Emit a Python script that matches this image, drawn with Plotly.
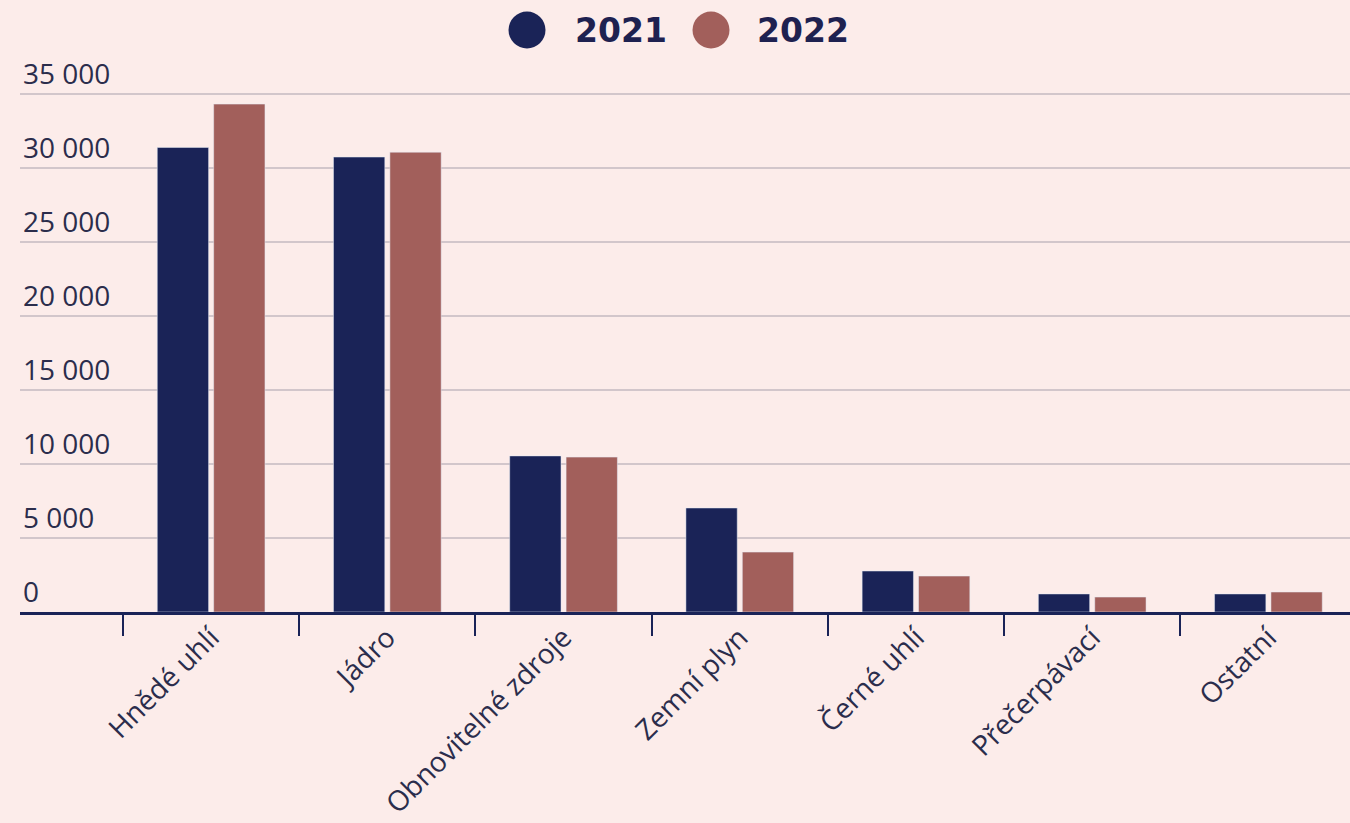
import plotly.graph_objects as go

categories = ["Hnědé uhlí", "Jádro", "Obnovitelné zdroje", "Zemní plyn", "Černé uhlí", "Přečerpávací", "Ostatní"]
series_names = ["2021", "2022"]
values_2021 = [31400, 30750, 10550, 7030, 2770, 1220, 1220]
values_2022 = [34330, 31080, 10470, 4050, 2430, 1010, 1350]
y_tickvals = [0, 5000, 10000, 15000, 20000, 25000, 30000, 35000]
y_ticktext = ["0", "5 000", "10 000", "15 000", "20 000", "25 000", "30 000", "35 000"]

NAVY = "#1a2357"
ROSE = "#a25f5b"
BG = "#fcecea"
TEXT = "#2b2d4c"

W, H = 1350, 823
L, R, T, B = 20, 0, 35, 211
pw, ph = W - L - R, H - T - B

def px_x(px):
    return (px - L) / pw

def px_y(py):
    return (H - B - py) / ph

fig = go.Figure()
fig.add_trace(go.Bar(x=categories, y=values_2021, name=series_names[0], marker_color=NAVY, showlegend=False))
fig.add_trace(go.Bar(x=categories, y=values_2022, name=series_names[1], marker_color=ROSE, showlegend=False))

# custom legend with large circles
legend_items = [(527, 573, NAVY, series_names[0]), (711, 755, ROSE, series_names[1])]
shapes = []
annotations = []
for cx, tx, col, name in legend_items:
    shapes.append(dict(type="circle", xref="paper", yref="paper",
                       x0=px_x(cx - 18.5), x1=px_x(cx + 18.5),
                       y0=px_y(30 + 18.5), y1=px_y(30 - 18.5),
                       fillcolor=col, line=dict(width=0)))
    annotations.append(dict(x=px_x(tx), y=px_y(30), xref="paper", yref="paper",
                            text="<b>%s</b>" % name, showarrow=False,
                            xanchor="left", yanchor="middle",
                            font=dict(family="DejaVu Sans", size=33, color="#1e2150")))

fig.update_layout(
    width=W, height=H,
    margin=dict(l=L, r=R, t=T, b=B, autoexpand=False),
    paper_bgcolor=BG, plot_bgcolor=BG,
    barmode="group", bargap=0.36, bargroupgap=0.09,
    shapes=shapes, annotations=annotations,
    showlegend=False,
    font=dict(family="Open Sans", color=TEXT),
)
fig.update_xaxes(
    type="category",
    range=[-1.0846, 6.463],
    automargin=False,
    showline=True, linecolor=NAVY, linewidth=3,
    ticks="outside", tickson="boundaries", ticklen=21, tickwidth=2, tickcolor=NAVY,
    tickangle=-45, tickfont=dict(family="Open Sans", size=28, color=TEXT),
    ticklabelstandoff=-5,
    showgrid=False,
)
fig.update_yaxes(
    range=[0, 39000],
    automargin=False,
    tickvals=y_tickvals, ticktext=y_ticktext,
    ticklabelposition="inside top",
    tickfont=dict(family="Open Sans", size=28, color=TEXT),
    showgrid=True, gridcolor="#d2c6cb", gridwidth=1.5,
    zeroline=False, ticks="",
)

fig.write_html("out.html")
